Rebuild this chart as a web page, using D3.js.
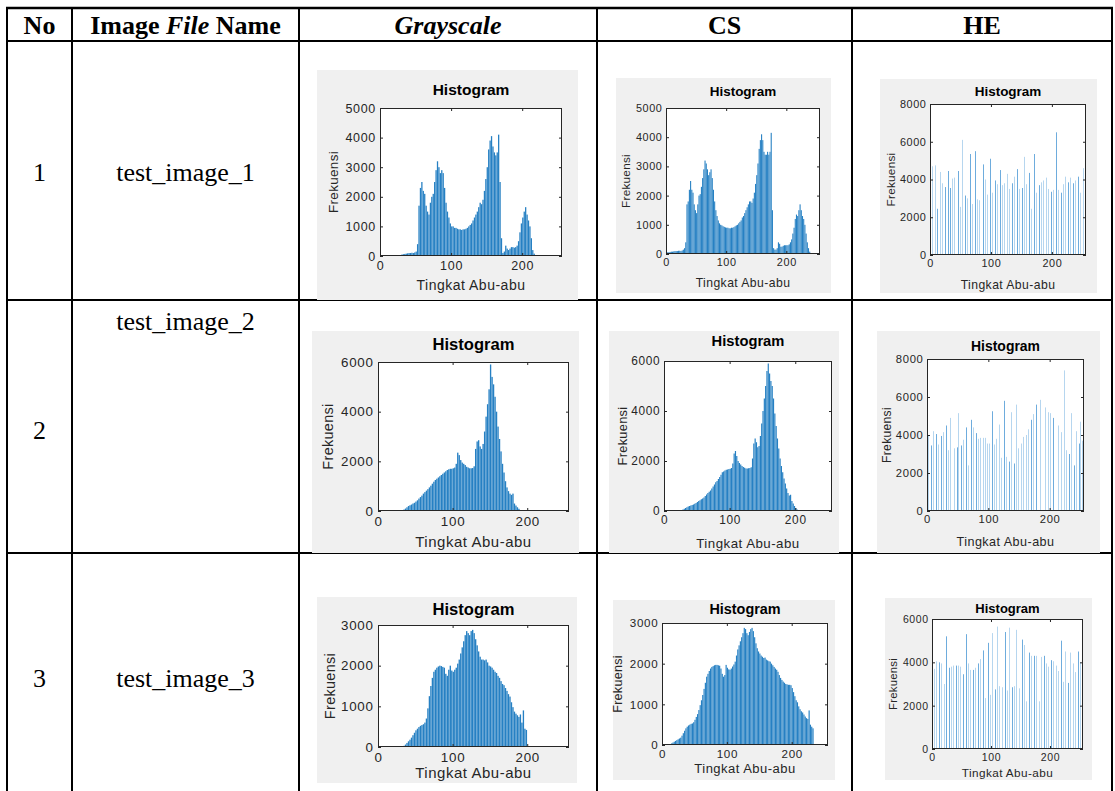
<!DOCTYPE html>
<html>
<head>
<meta charset="utf-8">
<script src="https://cdn.jsdelivr.net/npm/d3@7/dist/d3.min.js"></script>
<style>
  body { margin: 0; background: #fff; }
  svg { display: block; }
</style>
</head>
<body>
<svg id="chart" width="1115" height="791"></svg>
<script>
// ---- table content ----
var rowNumbers = ["1", "2", "3"];
var fileNames = ["test_image_1", "test_image_2", "test_image_3"];
var histTitle = "Histogram";
var xLabel = "Tingkat Abu-abu";
var yLabel = "Frekuensi";
var xTicks = [0, 100, 200];

// ---- dense histograms: counts per 2 grey levels (levels 0,2,4,...,254) ----
var gray1 = [
  0,0,0,0,0,0,0,0,0,0,0,0,0,0,0,50,
  60,70,80,90,100,100,110,100,120,150,400,1700,2300,2500,2200,2100,
  1700,1500,1400,1800,2000,2100,2500,2900,3200,3000,2800,2900,2800,2300,1800,1500,
  1300,1100,1000,1000,950,950,920,900,900,880,900,900,920,950,1000,1050,
  1100,1200,1300,1400,1500,1650,1800,1750,1900,2200,2600,3000,3600,3900,4050,3700,
  3500,3400,3500,4100,2500,600,100,150,350,250,200,250,300,300,280,300,
  350,500,800,1100,1300,1500,1650,1400,1200,1000,600,200,80,30,0,0,
  0,0,0,0,0,0,0,0,0,0,0,0,0,0,0,0
];
var cs1 = [
  0,60,60,70,80,80,90,100,100,100,110,110,100,120,150,200,
  400,1700,1800,2200,2500,2200,2100,1700,1500,1400,1700,2000,2050,2300,2600,2900,
  3200,3100,2900,2700,2800,2900,2600,2200,1800,1500,1300,1150,1050,1000,980,950,
  930,910,900,900,880,880,900,900,920,950,980,1000,1050,1100,1150,1250,
  1300,1400,1500,1600,1700,1800,1800,1750,1900,2100,2400,2700,3100,3600,3900,4100,
  3900,3500,3400,3400,3500,3400,3500,4150,1500,200,150,150,200,400,350,250,
  250,280,300,300,300,300,330,400,500,700,900,1200,1350,1300,1500,1700,
  1500,1300,1200,1000,700,400,200,80,30,0,0,0,0,0,0,0
];
var gray2 = [
  0,0,0,0,0,0,0,0,0,0,0,0,0,0,0,0,
  30,60,100,150,200,230,260,300,330,380,430,500,560,620,700,760,
  820,880,950,1020,1100,1180,1250,1300,1350,1400,1450,1500,1550,1600,1650,1680,
  1700,1700,1720,1750,1900,2350,2250,2050,1950,1900,1850,1780,1750,1720,1720,1730,
  1800,2500,2800,2850,2600,2500,2700,3200,3800,4300,4900,5900,5400,5100,4600,4000,
  3400,2900,2400,1900,1550,1200,950,800,700,650,700,300,220,150,90,40,
  10,0,0,0,0,0,0,0,0,0,0,0,0,0,0,0,
  0,0,0,0,0,0,0,0,0,0,0,0,0,0,0,0
];
var cs2 = [
  0,0,0,0,0,0,0,0,0,0,0,0,0,20,60,90,
  120,150,180,200,220,240,260,290,320,360,400,430,470,500,540,600,
  660,720,770,820,900,980,1060,1150,1200,1280,1360,1450,1550,1580,1620,1650,
  1660,1680,1690,1720,1900,2300,2400,2200,2000,1920,1860,1800,1760,1730,1700,1700,
  1710,1720,1750,2100,2700,2900,2750,2550,2600,3000,3500,4000,4500,5000,5600,5900,
  5500,5200,5000,4500,3900,3400,2900,2500,2100,1800,1550,1300,1100,900,720,620,
  650,400,300,200,120,60,30,0,0,0,0,0,0,0,0,0,
  0,0,0,0,0,0,0,0,0,0,0,0,0,0,0,0
];
var gray3 = [
  0,0,0,0,0,0,0,0,0,0,0,0,0,0,0,0,
  0,30,60,100,140,180,230,290,350,410,450,490,520,540,560,600,
  700,950,1250,1500,1700,1850,1900,1950,1980,2000,1990,1970,1950,1800,1750,1900,
  2000,1880,1850,1900,1950,2050,2150,2300,2450,2600,2750,2850,2800,2750,2850,2880,
  2800,2650,2500,2350,2220,2150,2150,2130,2150,2080,2000,1980,1950,1900,1850,1820,
  1750,1700,1620,1550,1520,1450,1380,1300,1240,1100,980,870,820,780,740,800,
  600,900,450,420,0,0,0,0,0,0,0,0,0,0,0,0,
  0,0,0,0,0,0,0,0,0,0,0,0,0,0,0,0
];
var cs3 = [
  0,0,0,0,0,0,20,40,60,80,100,120,140,160,180,230,
  290,350,410,450,480,500,520,530,560,620,690,760,860,980,1100,1230,
  1380,1530,1680,1750,1820,1880,1920,1940,1960,1970,1970,1960,1950,1880,1750,1680,
  1720,1970,1900,1860,1850,1880,1930,1980,2050,2200,2350,2450,2550,2650,2750,2880,
  2850,2750,2700,2780,2850,2880,2800,2650,2500,2380,2300,2250,2200,2170,2140,2150,
  2100,2080,2060,2050,2000,1960,1920,1880,1850,1800,1720,1650,1600,1560,1530,1500,
  1490,1480,1480,1470,1400,1300,1200,1100,1050,950,880,830,800,750,700,660,
  640,850,500,450,410,0,0,0,0,0,0,0,0,0,0,0
];

// ---- equalised histograms: occupied grey levels and their counts ----
var he1Levels = [4,9,12,17,21,25,30,33,37,41,46,50,54,58,62,66,70,74,78,82,
  87,91,95,99,103,107,111,115,119,123,127,131,135,139,143,147,151,155,159,163,
  167,171,175,179,183,187,191,195,199,203,207,211,215,219,223,227,231,235,239,243,247,252];
var he1Counts = [4700,4750,2450,4400,3800,3600,4450,3550,4050,4100,4450,2550,6100,3150,3000,5350,2700,5500,2950,2900,
  4800,4000,3200,5100,3300,3950,3750,4500,3700,3800,4300,3500,3800,4150,4550,3500,3550,5200,3750,4350,
  2450,5350,3300,3700,3850,3950,4100,3500,3350,3450,6500,3450,3300,3750,4150,3850,4100,3800,3950,4150,3300,4600];
var he2Levels = [3,7,11,15,19,23,27,31,35,39,45,49,52,56,60,64,68,72,76,80,
  84,88,92,96,99,102,106,110,114,118,122,126,130,134,138,142,146,150,154,158,
  162,166,170,174,178,185,194,198,202,206,215,220,224,228,232,236,240,244,248,251,254];
var he2Counts = [3950,3450,4200,4050,3500,3950,4150,4500,3200,4900,3300,3350,5150,3450,3750,4400,2400,4800,4400,4100,
  3800,3850,3850,3850,3550,3550,5250,3500,3800,4550,2800,5800,2850,2600,5200,2500,5600,3300,3550,3900,
  4000,4300,4800,5100,5600,5850,5450,5200,5150,4900,4500,4150,7400,3200,3000,5150,2400,4200,3550,4700,3700];
var he3Levels = [4,8,12,16,21,24,29,33,37,41,45,49,53,58,62,66,70,74,78,82,
  87,91,95,99,103,107,111,115,120,124,128,132,136,140,144,149,153,157,161,165,
  169,173,177,182,186,190,194,198,202,206,211,215,219,223,227,231,235,240,244,248,252];
var he3Counts = [3700,4050,4000,3950,3000,5200,3750,3800,3850,3850,3850,3800,3450,5300,3950,3650,3650,3750,3950,4150,
  4550,2350,4900,2500,5350,2750,5650,2900,2850,5400,2700,5600,2850,2900,5500,2800,5050,4800,2200,4450,
  4300,4300,4300,2200,4250,4300,3950,3800,4100,4050,3850,3600,5000,3100,4500,3050,4450,3950,3550,4500,4000];

var svg = d3.select("#chart");
var serif = "'Liberation Serif', 'Times New Roman', serif";
var sans = "'Liberation Sans', Arial, Helvetica, sans-serif";

// ---- table grid ----
var colX = [7, 72, 299, 597, 852, 1112];
var rowY = [8, 41, 300, 553, 791];

var grid = svg.append("g").attr("stroke", "#000").attr("stroke-width", 2);
colX.forEach(function (x) {
    grid.append("line").attr("x1", x).attr("x2", x).attr("y1", rowY[0] - 1).attr("y2", 791);
});
rowY.slice(0, 4).forEach(function (y, i) {
    grid.append("line").attr("x1", colX[0] - 1).attr("x2", colX[5] + 1)
        .attr("y1", y).attr("y2", y).attr("stroke-width", i == 0 ? 2.5 : 2);
});

// header
var head = svg.append("g").attr("font-family", serif).attr("font-size", 26)
    .attr("font-weight", "bold").attr("text-anchor", "middle").attr("fill", "#000");
head.append("text").attr("x", (colX[0] + colX[1]) / 2).attr("y", 34).text("No");
var h2 = head.append("text").attr("x", (colX[1] + colX[2]) / 2).attr("y", 34);
h2.append("tspan").text("Image ");
h2.append("tspan").attr("font-style", "italic").text("File");
h2.append("tspan").text(" Name");
head.append("text").attr("x", (colX[2] + colX[3]) / 2).attr("y", 34).attr("font-style", "italic").text("Grayscale");
head.append("text").attr("x", (colX[3] + colX[4]) / 2).attr("y", 34).text("CS");
head.append("text").attr("x", (colX[4] + colX[5]) / 2).attr("y", 34).text("HE");

// body text
var numY = [181, 439, 687];
var nameY = [181, 330, 687];
var body = svg.append("g").attr("font-family", serif).attr("font-size", 26)
    .attr("text-anchor", "middle").attr("fill", "#000");
rowNumbers.forEach(function (n, i) {
    body.append("text").attr("x", (colX[0] + colX[1]) / 2).attr("y", numY[i]).text(n);
    body.append("text").attr("x", (colX[1] + colX[2]) / 2).attr("y", nameY[i]).text(fileNames[i]);
});

// ---- histogram panels ----
var panels = [
  { data: gray1, box: [317, 70, 578, 300], ax: [380, 562, 108, 256], tY: 90, xlY: 285, ylX: 333, yMax: 5000, yStep: 1000, s: 1.0 },
  { data: cs1, box: [616, 78, 831, 293], ax: [666, 820, 108, 254], tY: 91, xlY: 283, ylX: 626, yMax: 5000, yStep: 1000, s: 0.87 },
  { levels: he1Levels, counts: he1Counts, box: [880, 79, 1097, 293], ax: [930, 1086, 104, 255], tY: 91, xlY: 285, ylX: 891, yMax: 8000, yStep: 2000, s: 0.87 },
  { data: gray2, box: [312, 331, 579, 553], ax: [378, 569, 362, 511], tY: 344, xlY: 542, ylX: 328, yMax: 6000, yStep: 2000, s: 1.07 },
  { data: cs2, box: [609, 331, 839, 553], ax: [664, 832, 361, 511], tY: 341, xlY: 543, ylX: 622, yMax: 6000, yStep: 2000, s: 0.95 },
  { levels: he2Levels, counts: he2Counts, box: [877, 331, 1100, 553], ax: [927, 1084, 359, 511], tY: 346, xlY: 542, ylX: 887, yMax: 8000, yStep: 2000, s: 0.9 },
  { data: gray3, box: [317, 597, 577, 783], ax: [378, 569, 625, 747], tY: 609, xlY: 773, ylX: 330, yMax: 3000, yStep: 1000, s: 1.07 },
  { data: cs3, box: [613, 600, 835, 780], ax: [662, 828, 623, 745], tY: 609, xlY: 768, ylX: 618, yMax: 3000, yStep: 1000, s: 0.93 },
  { levels: he3Levels, counts: he3Counts, box: [885, 598, 1092, 780], ax: [932, 1083, 619, 749], tY: 608, xlY: 773, ylX: 893, yMax: 6000, yStep: 2000, s: 0.84 }
];

function drawPanel(p) {
    var g = svg.append("g");
    var b = p.box, a = p.ax;
    g.append("rect").attr("x", b[0]).attr("y", b[1]).attr("width", b[2] - b[0]).attr("height", b[3] - b[1])
        .attr("fill", "#f0f0f0");
    g.append("rect").attr("x", a[0]).attr("y", a[2]).attr("width", a[1] - a[0]).attr("height", a[3] - a[2])
        .attr("fill", "#fff");

    var xs = d3.scaleLinear().domain([0, 256]).range([a[0], a[1]]);
    var ys = d3.scaleLinear().domain([0, p.yMax]).range([a[3], a[2]]);

    if (p.data) {
        var bins = p.data.map(function (v, i) { return { level: i * 2, v: v }; })
            .filter(function (d) { return d.v > 0; });
        g.append("g").selectAll("rect").data(bins).enter().append("rect")
            .attr("x", function (d) { return xs(d.level); })
            .attr("width", function (d) { return (xs(d.level + 2) - xs(d.level)) * 0.9; })
            .attr("y", function (d) { return ys(d.v); })
            .attr("height", function (d) { return ys(0) - ys(d.v); })
            .attr("fill", "#2680c3");
    } else {
        var bars = p.levels.map(function (l, i) { return { level: l, v: p.counts[i] }; });
        g.append("g").selectAll("rect").data(bars).enter().append("rect")
            .attr("x", function (d) { return Math.floor(xs(d.level)); })
            .attr("width", 1)
            .attr("y", function (d) { return ys(d.v); })
            .attr("height", function (d) { return ys(0) - ys(d.v); })
            .attr("fill", function (d) {
                var px = xs(d.level);
                return (px - Math.floor(px)) < 0.35 ? "#6eacdd" : "#b6d6ef";
            });
    }

    var s = p.s;
    var tickFont = 12.5 * s;
    var yTicks = d3.range(0, p.yMax + 1, p.yStep);

    var xAxis = g.append("g").attr("transform", "translate(0," + a[3] + ")")
        .call(d3.axisBottom(xs).tickValues(xTicks).tickFormat(d3.format("d"))
            .tickSizeInner(-3).tickSizeOuter(0).tickPadding(5 * s));
    var yAxis = g.append("g").attr("transform", "translate(" + a[0] + ",0)")
        .call(d3.axisLeft(ys).tickValues(yTicks).tickFormat(d3.format("d"))
            .tickSizeInner(-3).tickSizeOuter(0).tickPadding(4 * s));
    g.append("g").attr("transform", "translate(0," + a[2] + ")")
        .call(d3.axisTop(xs).tickValues(xTicks).tickSizeInner(-3).tickSizeOuter(0).tickFormat(""));
    g.append("g").attr("transform", "translate(" + a[1] + ",0)")
        .call(d3.axisRight(ys).tickValues(yTicks).tickSizeInner(-3).tickSizeOuter(0).tickFormat(""));

    g.selectAll(".domain").remove();
    g.selectAll(".tick line").attr("stroke", "#262626");
    [xAxis, yAxis].forEach(function (ax) {
        ax.selectAll("text").attr("font-family", sans).attr("font-size", tickFont)
            .attr("fill", "#262626").attr("letter-spacing", 0.7 * s);
    });

    g.append("rect").attr("x", a[0] + 0.5).attr("y", a[2] + 0.5)
        .attr("width", a[1] - a[0] - 1).attr("height", a[3] - a[2] - 1)
        .attr("fill", "none").attr("stroke", "#262626").attr("stroke-width", 1);

    var cx = (a[0] + a[1]) / 2, cy = (a[2] + a[3]) / 2;
    g.append("text").attr("x", cx).attr("y", p.tY).attr("dy", "0.35em")
        .attr("text-anchor", "middle").attr("font-family", sans).attr("font-weight", "bold")
        .attr("font-size", 15.5 * s).attr("fill", "#000").text(histTitle);
    g.append("text").attr("x", cx).attr("y", p.xlY).attr("dy", "0.35em")
        .attr("text-anchor", "middle").attr("font-family", sans)
        .attr("font-size", 14 * s).attr("fill", "#262626").attr("letter-spacing", 0.5 * s).text(xLabel);
    g.append("text").attr("transform", "translate(" + p.ylX + "," + cy + ") rotate(-90)")
        .attr("dy", "0.35em").attr("text-anchor", "middle").attr("font-family", sans)
        .attr("font-size", 13.5 * s).attr("fill", "#262626").attr("letter-spacing", 0.3 * s).text(yLabel);
}

panels.forEach(drawPanel);
</script>
</body>
</html>
